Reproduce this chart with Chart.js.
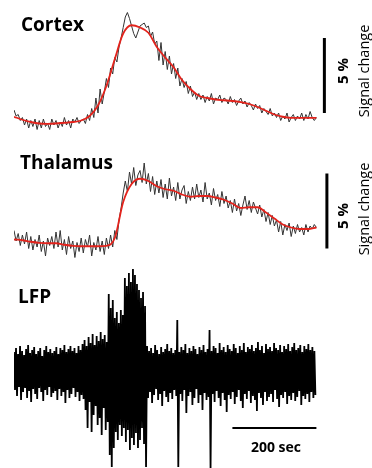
<!DOCTYPE html>
<html>
<head>
<meta charset="utf-8">
<script src="https://cdn.jsdelivr.net/npm/chart.js@4.4.0/dist/chart.umd.min.js"></script>
<style>
    html, body { margin: 0; padding: 0; background: #fff; }
    #wrap { position: relative; width: 372px; height: 468px; overflow: hidden; font-family: "Open Sans", sans-serif; color: #000; }
    canvas { position: absolute; left: 0; }
    .title { position: absolute; font-weight: bold; font-size: 19px; line-height: 1; }
    .rot { position: absolute; transform: translate(-50%, -50%) rotate(-90deg); white-space: nowrap; line-height: 1; }
    .pct { font-weight: bold; font-size: 15px; }
    .sig { font-size: 14.5px; }
    .sec { position: absolute; left: 226px; width: 100px; text-align: center; font-weight: bold; font-size: 14px; line-height: 1; }
</style>
</head>
<body>
<div id="wrap">
    <canvas id="cortex-chart" width="372" height="140" style="top:0"></canvas>
    <canvas id="thal-chart" width="372" height="126" style="top:139px"></canvas>
    <canvas id="lfp-chart" width="372" height="206" style="top:262px"></canvas>

    <div class="title" style="left:21px; top:15px">Cortex</div>
    <div class="title" style="left:20px; top:153px">Thalamus</div>
    <div class="title" style="left:18px; top:287px">LFP</div>

    <div class="rot pct" style="left:342px; top:71px">5 %</div>
    <div class="rot sig" style="left:364px; top:71px">Signal change</div>
    <div class="rot pct" style="left:342px; top:216px">5 %</div>
    <div class="rot sig" style="left:364px; top:209px">Signal change</div>

    <div class="sec" style="top:440px">200 sec</div>
</div>

<script>
// ---------------------------------------------------------------------------
// Data (signal change in %, time in sec)
// ---------------------------------------------------------------------------

const SAMPLE_SEC = 5;       // raw BOLD trace sampling step
const LFP_BIN_SEC = 4.8;    // one peak + one trough per LFP bin

const fitTimes = [0, 20, 40, 60, 80, 100, 120, 140, 160, 180, 200, 220, 240,
                  260, 280, 300, 320, 340, 360, 380, 400, 420, 440, 460, 480,
                  500, 520, 540, 560, 580, 600, 620, 640, 660, 680, 700, 720];

const cortexRaw = [
    0.8, 0.4, 0.5, 0.1, 0.3, -0.2, 0.2, -0.4, 0.1,
    -0.3, 0.2, -0.5, 0.1, -0.4, 0.2, -0.3, -0.1, -0.5, 0.2, -0.2, 0.1,
    -0.4, 0.0, -0.3, 0.3, -0.2, 0.1, -0.4, 0.2, 0.0, 0.3, -0.1, 0.1,
    0.2, -0.1, 0.5, 0.1, 0.9, 0.3, 1.6, 0.6,
    2.2, 1.2, 2.0, 2.9, 2.3, 3.6, 3.2, 4.3, 4.0, 5.0, 5.6, 6.3,
    7.0, 7.3, 6.9, 6.4, 5.9, 5.6, 6.0, 6.4,
    6.5, 6.6, 6.3, 6.4, 5.7, 6.0, 5.2, 5.4,
    4.1, 5.3, 3.8, 4.7, 3.5, 4.4, 3.2, 3.9, 2.9, 3.6, 2.4, 2.9,
    2.3, 2.7, 1.9, 2.4, 1.7, 2.0, 1.5, 1.9,
    1.5, 1.8, 1.3, 1.7, 1.4, 1.9, 1.2, 1.6, 1.5, 1.8, 1.3, 1.6,
    1.5, 1.2, 1.7, 1.3, 1.5, 1.1, 1.4, 1.6, 1.2, 1.4, 1.0, 1.3,
    1.1, 0.8, 1.2, 0.9, 1.1, 0.6, 0.9, 0.7, 0.5, 0.9, 0.4, 0.6,
    0.3, 0.6, 0.1, 0.4, 0.2, 0.6, 0.0, 0.3, 0.5, 0.1, 0.4, 0.2,
    0.6, 0.1, 0.5, 0.2, 0.7, 0.3, 0.1, 0.3
];

const cortexFit = [0.35, 0.15, 0.0, -0.1, -0.12, -0.1, -0.05, 0.0, 0.1, 0.4,
                   1.1, 2.4, 4.2, 5.9, 6.45, 6.3, 5.95, 5.0, 4.3, 3.65, 2.8,
                   2.2, 1.75, 1.6, 1.5, 1.45, 1.4, 1.32, 1.2, 1.0, 0.75, 0.5,
                   0.35, 0.28, 0.27, 0.27, 0.27];

const thalRaw = [
    0.9, 0.2, 0.7, -0.1, 0.6, 0.0, 0.8, -0.3, 0.5,
    -0.4, 0.3, -0.2, 0.6, -0.5, 0.2, -0.8, 0.4, -0.1, 0.5, -0.3, 0.8,
    -0.2, 0.9, -0.4, 0.3, -0.7, 0.5, -0.3, 0.2, -0.9, 0.1, -0.5, 0.4,
    -0.6, 0.3, -0.2, 0.6, -0.8, 0.1, -0.4, 0.5,
    -0.5, 0.2, -0.7, 0.4, -0.3, 0.6, -0.2, 0.9, 0.3, 1.6, 2.4, 3.4,
    4.2, 3.5, 4.8, 4.0, 5.1, 3.9, 4.6, 4.9,
    4.1, 5.4, 4.0, 4.7, 3.5, 4.5, 3.3, 4.2,
    3.4, 4.3, 3.1, 4.0, 3.0, 4.4, 3.2, 3.8, 2.9, 4.1, 3.0, 3.6,
    3.9, 2.7, 3.5, 2.9, 3.8, 3.0, 4.0, 3.1,
    3.6, 2.8, 4.1, 3.0, 3.4, 2.6, 3.7, 2.9, 3.3, 2.5, 3.5, 2.7,
    3.2, 2.4, 2.9, 2.1, 3.0, 2.2, 2.7, 1.9, 2.6, 3.2, 2.3, 2.9,
    2.1, 2.8, 2.4, 2.0, 2.6, 1.8, 2.3, 1.5, 2.1, 1.3, 1.9, 1.2,
    1.6, 0.8, 1.5, 0.6, 1.3, 0.9, 1.4, 0.5, 1.2, 0.7, 1.3, 0.8,
    1.1, 0.6, 1.3, 0.8, 1.2, 1.0, 1.3, 1.1
];

const thalFit = [0.3, 0.25, 0.15, 0.08, 0.05, 0.05, -0.05, -0.12, -0.15, -0.15,
                 -0.15, -0.12, 0.4, 2.8, 4.0, 4.35, 4.2, 3.85, 3.65, 3.55, 3.3,
                 3.15, 3.2, 3.2, 3.1, 2.95, 2.7, 2.4, 2.45, 2.45, 2.1, 1.7,
                 1.3, 1.1, 1.0, 1.0, 1.1];

// LFP envelope per bin (arbitrary units): upward peak and downward trough
const lfpHi = [
    18, 22, 16, 24, 19, 15, 21, 25, 17, 20,
    23, 16, 19, 22, 14, 20, 24, 18, 21, 17,
    19, 23, 16, 22, 20, 25, 18, 21, 24, 19,
    22, 17, 24, 20, 26,
    30, 24, 33, 27, 36, 25, 34, 29, 38, 31, 35, 28,
    76, 62, 70,
    52, 58, 47, 60, 55,
    92, 84, 97, 88, 101, 95, 86,
    80, 72, 78, 64,
    24, 19, 22, 17, 25, 20, 16, 23, 18, 21, 26, 19, 22, 17,
    20, 50,
    18, 23, 20, 26, 17, 22, 19, 24, 21, 16, 23, 20, 25, 18, 21,
    40,
    19, 24, 22, 17, 27, 20, 23, 18, 25, 21,
    19, 26, 22, 17, 24, 20, 27, 18, 23, 21,
    25, 19, 22, 28, 20, 24, 17, 26, 21, 23,
    19, 27, 22, 20, 25, 18, 24, 21, 26, 19,
    23, 27, 20, 22, 25, 18, 24, 21, 26, 20, 23, 19
];

const lfpLo = [
    -20, -26, -17, -30, -22, -18, -28, -21, -32, -19,
    -24, -29, -18, -22, -31, -20, -25, -17, -27, -23,
    -21, -30, -19, -26, -22, -33, -20, -28, -24, -18,
    -27, -22, -31, -25, -29,
    -40, -58, -32, -62, -45, -36, -55, -48, -65, -38, -60, -52,
    -85, -97, -78,
    -62, -70, -55, -66, -58,
    -72, -60, -80, -68, -75, -63, -78,
    -70, -58, -74, -97,
    -28, -22, -33, -25, -19, -30, -24, -36, -21, -27, -32, -23, -29, -20,
    -26, -97,
    -24, -31, -20, -43, -26, -22, -35, -28, -19, -33, -25, -40, -23, -30, -27,
    -98,
    -24, -32, -21, -28, -36, -23, -30, -42, -25, -29,
    -22, -34, -27, -20, -31, -38, -24, -29, -21, -33,
    -26, -30, -41, -23, -28, -35, -22, -31, -27, -24,
    -32, -20, -29, -37, -25, -28, -22, -34, -26, -30,
    -23, -31, -27, -21, -35, -26, -29, -24, -32, -22, -28, -25
];

// Scale bars
const BAR_PCT = 5;
const BAR_SEC = 200;
const cortexBarAt = { t: 739, base: 0.6 };
const thalBarAt = { t: 745, base: -0.3 };
const timeBarAt = { t: 520, level: -58 };

// ---------------------------------------------------------------------------
// Charts
// ---------------------------------------------------------------------------

const RED = '#e3231c';
const TRACE = '#333333';

function rawPoints(values) {
    return values.map((v, i) => ({ x: i * SAMPLE_SEC, y: v }));
}

function fitPoints(values) {
    return values.map((v, i) => ({ x: fitTimes[i], y: v }));
}

function vBar(at) {
    return {
        data: [{ x: at.t, y: at.base }, { x: at.t, y: at.base + BAR_PCT }],
        borderColor: '#000', borderWidth: 3, pointRadius: 0, order: 2,
    };
}

function makeChart(id, datasets, yMin, yMax, padTop) {
    return new Chart(document.getElementById(id), {
        type: 'line',
        data: { datasets },
        options: {
            responsive: false,
            animation: false,
            devicePixelRatio: 1,
            layout: { padding: { left: 14, right: 1, top: padTop, bottom: 0 } },
            plugins: { legend: { display: false }, tooltip: { enabled: false } },
            scales: {
                x: { type: 'linear', min: 0, max: 850, display: false },
                y: { type: 'linear', min: yMin, max: yMax, display: false },
            },
        },
    });
}

// Cortex
makeChart('cortex-chart', [
    {
        data: fitPoints(cortexFit), borderColor: RED, borderWidth: 1.8,
        pointRadius: 0, cubicInterpolationMode: 'monotone', order: 0,
    },
    {
        data: rawPoints(cortexRaw), borderColor: TRACE, borderWidth: 1,
        pointRadius: 0, tension: 0, order: 1,
    },
    vBar(cortexBarAt),
], -1.2, 8, 2);

// Thalamus
makeChart('thal-chart', [
    {
        data: fitPoints(thalFit), borderColor: RED, borderWidth: 1.8,
        pointRadius: 0, cubicInterpolationMode: 'monotone', order: 0,
    },
    {
        data: rawPoints(thalRaw), borderColor: TRACE, borderWidth: 1,
        pointRadius: 0, tension: 0, order: 1,
    },
    vBar(thalBarAt),
], -1.4, 7, 0);

// LFP: interleave peak / trough of each bin into one trace
const lfpTrace = [];
lfpHi.forEach((h, i) => {
    lfpTrace.push({ x: i * LFP_BIN_SEC, y: h });
    lfpTrace.push({ x: i * LFP_BIN_SEC + LFP_BIN_SEC / 2, y: lfpLo[i] });
});

makeChart('lfp-chart', [
    {
        data: lfpTrace, borderColor: '#000', borderWidth: 1.8,
        borderJoinStyle: 'bevel', pointRadius: 0, tension: 0, order: 1,
    },
    {
        data: [{ x: timeBarAt.t, y: timeBarAt.level }, { x: timeBarAt.t + BAR_SEC, y: timeBarAt.level }],
        borderColor: '#000', borderWidth: 2, pointRadius: 0, order: 0,
    },
], -98, 108, 0);
</script>
</body>
</html>
